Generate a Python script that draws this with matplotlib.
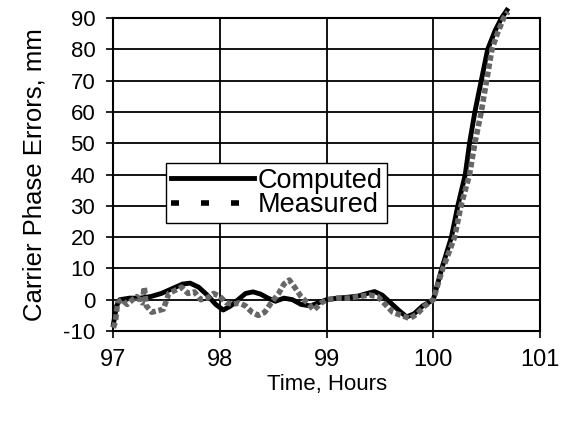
import numpy as np
import matplotlib.pyplot as plt
from matplotlib.lines import Line2D

plt.rcParams['font.family'] = ['Liberation Sans', 'DejaVu Sans']
plt.rcParams['axes.unicode_minus'] = False

# computed carrier phase error (hours, mm)
comp_t = [97.00, 97.03, 97.06, 97.15, 97.25, 97.35, 97.45, 97.55, 97.65, 97.72,
          97.80, 97.88, 97.96, 98.03, 98.10, 98.17, 98.24, 98.31, 98.38, 98.45,
          98.52, 98.60, 98.68, 98.76, 98.85, 98.92, 99.00, 99.10, 99.20, 99.30,
          99.38, 99.45, 99.52, 99.60, 99.68, 99.75, 99.82, 99.90, 100.00, 100.08,
          100.17, 100.23, 100.30, 100.34, 100.39, 100.45, 100.51, 100.58, 100.64,
          100.69]
comp_v = [-8, -2, 0, 0.5, 0.5, 1, 2, 3.5, 5, 5.3,
          4, 1.5, -1.5, -3.3, -2, 0, 2, 2.5, 1.8, 0.5,
          -0.5, 0.5, 0, -1.5, -2, -1, 0, 0.5, 0.8, 1.2,
          2, 2.6, 1.5, -1, -3.5, -5.5, -4.5, -2, 0, 10,
          20, 30, 40, 50, 60, 70, 80, 86, 90,
          92.5]

# measured carrier phase error (hours, mm)
meas_t = [97.00, 97.02, 97.04, 97.08, 97.13, 97.18, 97.22, 97.27, 97.29, 97.31,
          97.36, 97.42, 97.47, 97.52, 97.58, 97.64, 97.70, 97.76, 97.82, 97.88,
          97.94, 98.00, 98.06, 98.12, 98.18, 98.24, 98.30, 98.36, 98.42, 98.48,
          98.55, 98.60, 98.65, 98.70, 98.76, 98.82, 98.88, 98.95, 99.00, 99.10,
          99.20, 99.30, 99.40, 99.48, 99.55, 99.62, 99.70, 99.78, 99.85, 99.92,
          100.00, 100.08, 100.20, 100.26, 100.34, 100.39, 100.45, 100.50, 100.55,
          100.60, 100.66, 100.70]
meas_v = [-9, -7, -1, 0, -1.5, 0, 1, -1, 4, -2,
          -4, -3.5, -3, 2, 3, 4, 2, 2.5, 0, 0.5,
          2, 1, -1, -1.5, -1, -2, -4, -5, -4, -1,
          2, 5, 6.3, 4, 1, -1, -3.3, -1, 0, 0.5,
          0.5, 1, 1.5, 1, -1.5, -4, -5, -6, -4.5, -2,
          0, 9, 20, 30, 40, 50, 60, 70, 80,
          85, 90, 92]

fig = plt.figure(figsize=(5.63, 4.23), dpi=100)
ax = fig.add_axes([0.2013, 0.2175, 0.7577, 0.7398])

ax.plot(comp_t, comp_v, color='black', lw=3.5, zorder=3, clip_on=False)
ax.plot(meas_t, meas_v, color='0.4', lw=4, linestyle=(0, (1.0, 0.5)),
        zorder=4, clip_on=False)

ax.set_xlim(97, 101)
ax.set_ylim(-10, 90)
ax.set_xticks(np.arange(97, 102, 1))
ax.set_yticks(np.arange(-10, 91, 10))
ax.grid(True, color='black', lw=1.3)
for s in ax.spines.values():
    s.set_linewidth(1.5)
ax.tick_params(direction='out', length=5, width=1.2, labelsize=16, pad=8)
ax.tick_params(axis='x', labelsize=17)

ax.set_xlabel('Time, Hours', fontsize=16, labelpad=2)
ax.set_ylabel('Carrier Phase Errors, mm', fontsize=18.5, labelpad=12)

handles = [Line2D([], [], color='black', lw=3.5),
           Line2D([], [], color='black', lw=4, dashes=(1.44, 3.96))]
leg = ax.legend(handles, ['Computed', 'Measured'], loc='upper left',
                bbox_to_anchor=(0.124, 0.537), fontsize=19.5, frameon=True,
                fancybox=False, handlelength=3.07, handletextpad=0.12,
                labelspacing=-0.05, borderpad=0.18, borderaxespad=0)
leg.get_frame().set_edgecolor('black')
leg.get_frame().set_linewidth(1)
leg.get_frame().set_alpha(1)
leg.set_zorder(10)

fig.savefig('out.png', dpi=100)
